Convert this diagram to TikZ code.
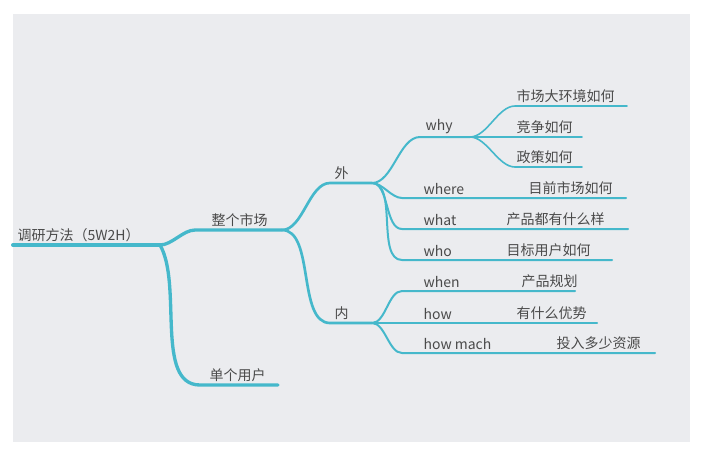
\documentclass[tikz,border=0pt]{standalone}
\usepackage{fontspec}
\setmainfont{Noto Sans CJK SC}
\definecolor{branch}{HTML}{45B8CB}
\definecolor{labelgray}{HTML}{4A4A4A}
\definecolor{paper}{HTML}{EBECEF}
\tikzset{
  lbl/.style={anchor=south west,inner sep=1pt,text=labelgray,font=\fontsize{10.5}{12}\selectfont},
  br/.style={draw=branch,line cap=round},
  swoop/.style={out=0,in=180,looseness=0.8}
}
\begin{document}
\begin{tikzpicture}[x=0.75pt,y=-0.75pt]
\useasboundingbox (0,0) rectangle (705,457);
\fill[paper] (13,14) rectangle (690,442);
% root
\coordinate (r0) at (13,245);
\coordinate (r1) at (160,245);
\node[lbl] (root) at (16,243) {调研方法（5W2H）};
\draw[br,line width=3pt] (r0) -- (r1);
% level 1
\coordinate (m0) at (195,230); \coordinate (m1) at (282,230);
\coordinate (u0) at (200,385); \coordinate (u1) at (278,385);
\node[lbl] (market) at (210,228) {整个市场};
\node[lbl] (user) at (208,383) {单个用户};
\draw[br,line width=2.5pt] (r1) to[swoop] (m0) -- (m1);
\draw[br,line width=2.5pt] (r1) to[out=-60,in=180,looseness=0.8] (u0) -- (u1);
% level 2
\coordinate (o0) at (330,183); \coordinate (o1) at (372,183);
\coordinate (i0) at (330,323); \coordinate (i1) at (372,323);
\node[lbl] (outer) at (333,181) {外};
\node[lbl] (inner) at (333,321) {内};
\draw[br,line width=2pt] (m1) to[swoop] (o0) -- (o1);
\draw[br,line width=2pt] (m1) to[swoop] (i0) -- (i1);
% outer questions
\coordinate (why0) at (420,137); \coordinate (why1) at (470,137);
\node[lbl] (why) at (424,135) {why};
\draw[br,line width=1.5pt] (o1) to[swoop] (why0) -- (why1);
\foreach \y/\e/\t/\n in {106/627/市场大环境如何/env,137/582/竞争如何/comp,167/582/政策如何/policy}{
  \coordinate (\n0) at (515,\y); \coordinate (\n1) at (\e,\y);
  \node[lbl] (\n) at (515,\y-2) {\t};
  \draw[br,line width=1.2pt] (why1) to[swoop] (\n0) -- (\n1);
}
\foreach \y/\q/\e/\t/\n/\x in {198/where/626/目前市场如何/where/527,229/what/628/产品都有什么样/what/505,260/who/612/目标用户如何/who/505}{
  \coordinate (\n0) at (402,\y); \coordinate (\n1) at (\e,\y);
  \node[lbl] (\n q) at (422,\y-2) {\q};
  \node[lbl] (\n a) at (\x,\y-2) {\t};
  \draw[br,line width=1.5pt] (o1) to[swoop] (\n0) -- (\n1);
}
% inner questions
\foreach \y/\q/\e/\t/\n/\x in {291/when/575/产品规划/when/520,323/how/597/有什么优势/how/515,353/how mach/655/投入多少资源/mach/555}{
  \coordinate (\n0) at (402,\y); \coordinate (\n1) at (\e,\y);
  \node[lbl] (\n q) at (422,\y-2) {\q};
  \node[lbl] (\n a) at (\x,\y-2) {\t};
  \draw[br,line width=1.5pt] (i1) to[swoop] (\n0) -- (\n1);
}
\end{tikzpicture}
\end{document}
